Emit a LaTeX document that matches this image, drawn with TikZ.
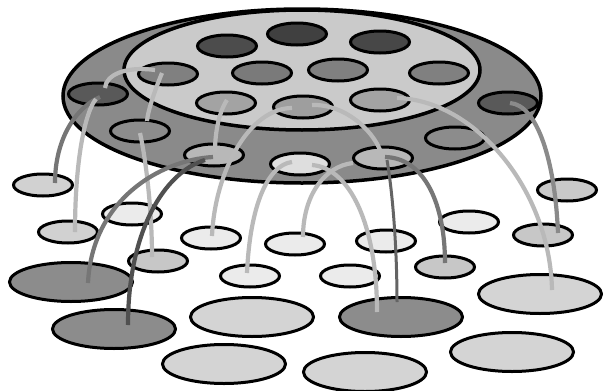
\documentclass[tikz,border=0pt]{standalone}
\usetikzlibrary{shapes.geometric}
\begin{document}
\begin{tikzpicture}[x=1pt,y=-1pt,
  disc/.style={ellipse, draw=black, line width=3pt, inner sep=0pt},
  sm/.style={disc, minimum width=59pt, minimum height=22pt},
  bg/.style={disc, minimum width=123pt, minimum height=39pt},
  link/.style={line width=4.2pt},
  lt/.style={link, draw={rgb,255:red,185;green,185;blue,185}},
  md/.style={link, draw={rgb,255:red,118;green,118;blue,118}},
  dk/.style={link, draw={rgb,255:red,80;green,80;blue,80}}]
\fill[white] (0,0) rectangle (603,391);
\useasboundingbox (0,0) rectangle (603,391);
% platform
\node[disc, line width=3.5pt, minimum width=478pt, minimum height=174pt, fill={rgb,255:red,138;green,138;blue,138}] (outer) at (302,96) {};
\node[disc, line width=3.5pt, minimum width=356pt, minimum height=120pt, fill={rgb,255:red,202;green,202;blue,202}] (inner) at (302,70) {};
% inner disc ellipses
\node[sm, fill=black!70] (i1) at (227,46) {};
\node[sm, fill=black!75] (i2) at (297,34) {};
\node[sm, fill=black!72] (i3) at (380,42) {};
\node[sm, fill=black!50] (i4) at (168,74) {};
\node[sm, fill=black!52] (i5) at (262,73) {};
\node[sm, fill=black!50] (i6) at (338,70) {};
\node[sm, fill=black!50] (i7) at (439,73) {};
\node[sm, fill=black!36] (i8) at (226,103) {};
\node[sm, fill=black!38] (i9) at (303,107) {};
\node[sm, fill=black!36] (i10) at (380,100) {};
% ring ellipses
\node[sm, fill=black!65] (r1) at (98,94) {};
\node[sm, fill=black!45] (r2) at (140,131) {};
\node[sm, fill=black!28] (r3) at (214,155) {};
\node[sm, fill=black!13] (r4) at (300,164) {};
\node[sm, fill=black!28] (r5) at (383,158) {};
\node[sm, fill=black!45] (r6) at (455,138) {};
\node[sm, fill=black!65] (r7) at (508,103) {};
% floor small ellipses
\node[sm, fill=black!18] (f1) at (43,185) {};
\node[sm, fill=black!21] (f2) at (567,190) {};
\node[sm, fill=black!8] (f3) at (132,214) {};
\node[sm, fill=black!18] (f4) at (68,232) {};
\node[sm, fill=black!8] (f5) at (211,238) {};
\node[sm, fill=black!8] (f6) at (295,244) {};
\node[sm, fill=black!8] (f7) at (386,241) {};
\node[sm, fill=black!8] (f8) at (469,222) {};
\node[sm, fill=black!22] (f9) at (543,235) {};
\node[sm, fill=black!22] (f10) at (158,261) {};
\node[sm, fill=black!8] (f11) at (250,276) {};
\node[sm, fill=black!8] (f12) at (350,276) {};
\node[sm, fill=black!22] (f13) at (445,267) {};
% floor big ellipses
\node[bg, fill=black!45] (b1) at (71,282) {};
\node[bg, fill=black!45] (b2) at (114,329) {};
\node[bg, fill=black!17] (b3) at (252,317) {};
\node[bg, fill=black!45] (b4) at (401,317) {};
\node[bg, fill=black!17] (b5) at (540,294) {};
\node[bg, fill=black!17] (b6) at (224,364) {};
\node[bg, fill=black!17] (b7) at (365,372) {};
\node[bg, fill=black!17] (b8) at (512,352) {};
% connectors
\draw[lt] ([shift={(-13,-4)}]i4.center) .. controls (125,66) and (106,75) .. ([shift={(7,-6)}]r1.center);
\draw[md] ([shift={(2,3)}]r1.center) .. controls (75,108) and (55,140) .. ([shift={(12,-2)}]f1.center);
\draw[lt] ([shift={(-2,5)}]r1.center) .. controls (85,112) and (75,160) .. ([shift={(7,0)}]f4.center);
\draw[lt] ([shift={(-6,-1)}]i4.center) .. controls (155,90) and (148,110) .. ([shift={(7,-10)}]r2.center);
\draw[lt] ([shift={(0,2)}]r2.center) .. controls (146,160) and (152,210) .. ([shift={(-6,-4)}]f10.center);
\draw[md] ([shift={(-1,2)}]r3.center) .. controls (160,160) and (92,200) .. ([shift={(17,1)}]b1.center);
\draw[dk] ([shift={(-9,5)}]r3.center) .. controls (165,172) and (128,230) .. ([shift={(14,-4)}]b2.center);
\draw[lt] ([shift={(1,-3)}]i8.center) .. controls (219,112) and (215,132) .. ([shift={(1,-3)}]r3.center);
\draw[lt] ([shift={(-11,1)}]i9.center) .. controls (250,108) and (215,170) .. ([shift={(1,-2)}]f5.center);
\draw[lt] ([shift={(9,-2)}]i9.center) .. controls (345,104) and (372,130) .. ([shift={(-3,-8)}]r5.center);
\draw[lt] ([shift={(-8,-2)}]r4.center) .. controls (268,165) and (250,205) .. ([shift={(-3,-3)}]f11.center);
\draw[lt] ([shift={(12,1)}]r4.center) .. controls (350,168) and (377,225) .. ([shift={(-24,-5)}]b4.center);
\draw[lt] ([shift={(8,-7)}]f6.center) .. controls (303,195) and (325,166) .. ([shift={(-30,5)}]r5.center);
\draw[lt] ([shift={(17,-2)}]i10.center) .. controls (475,100) and (550,190) .. ([shift={(12,-4)}]b5.center);
\draw[md, draw={rgb,255:red,138;green,138;blue,138}] ([shift={(2,0)}]r7.center) .. controls (537,105) and (555,160) .. ([shift={(15,-2)}]f9.center);
\draw[md] ([shift={(2,-1)}]r5.center) .. controls (425,158) and (445,205) .. ([shift={(0,-4)}]f13.center);
\draw[dk, line width=3pt, draw={rgb,255:red,100;green,100;blue,100}] ([shift={(4,2)}]r5.center) .. controls (393,195) and (397,250) .. ([shift={(-4,-15)}]b4.center);
\end{tikzpicture}
\end{document}
